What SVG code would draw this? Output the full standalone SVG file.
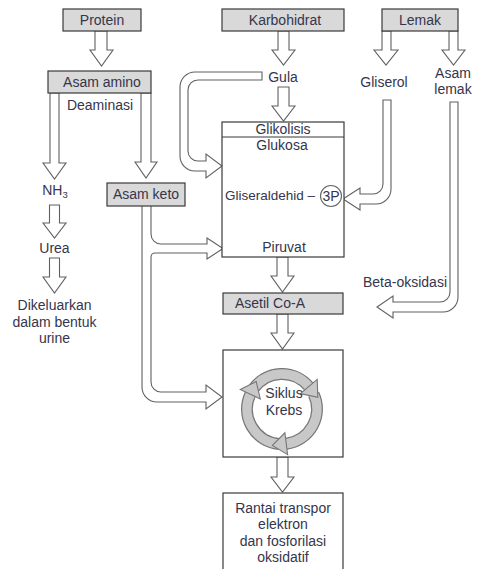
<svg xmlns="http://www.w3.org/2000/svg" width="478" height="569" viewBox="0 0 478 569">
<style>
text{font-family:"Liberation Sans",Arial,sans-serif;font-size:14px;fill:#35354d;text-anchor:middle}
.box{fill:#d9d9d9;stroke:#3a3a3a;stroke-width:1.2}
.wbox{fill:#fff;stroke:#3a3a3a;stroke-width:1.2}
.arr{fill:#fff;stroke:#606060;stroke-width:1.1;stroke-linejoin:miter}
.ring{fill:none;stroke:#777;stroke-width:12}
.ringin{fill:none;stroke:#c8c8c8;stroke-width:9.5}
.rhead{fill:#c8c8c8;stroke:#777;stroke-width:1.1}
</style>
<rect width="478" height="569" fill="#fff"/>
<g id="connectors">
<path class="arr" d="M95,31 V50 H90 L101.5,66 L113,50 H107 V31 Z"/>
<path class="arr" d="M50,93 V163 H43 L54.5,179 L66,163 H59 V93 Z"/>
<path class="arr" d="M141,93 V162 H135 L146,178 L157,162 H151 V93 Z"/>
<path class="arr" d="M49.5,205 V223 H43 L54.5,238 L66,223 H59.5 V205 Z"/>
<path class="arr" d="M49.5,258 V277 H43 L54.5,293 L66,277 H59.5 V258 Z"/>
<path class="arr" d="M278,31 V50 H272 L283.5,65 L295,50 H289 V31 Z"/>
<path class="arr" d="M278,87 V106 H272 L283.5,121 L295,106 H289 V87 Z"/>
<path class="arr" d="M277,156 V171 H271 L282.5,187 L294,171 H288 V156 Z"/>
<path class="arr" d="M277,208 V224 H271 L282.5,238 L294,224 H288 V208 Z"/>
<path class="arr" d="M277,257 V276 H271 L282.5,292 L294,276 H288 V257 Z"/>
<path class="arr" d="M277,314 V333 H271 L282.5,349 L294,333 H288 V314 Z"/>
<path class="arr" d="M277,457 V477 H271 L282.5,492 L294,477 H288 V457 Z"/>
<path class="arr" d="M382,31 V50 H374 L386,65 L398,50 H391 V31 Z"/>
<path class="arr" d="M449,31 V50 H442 L453.5,65 L465,50 H458 V31 Z"/>
<path class="arr" d="M262,72 H195 A15,15 0 0 0 180,87 V156 A15,15 0 0 0 195,171 H206 V178 L222,166 L206,154 V161 H198 A10,10 0 0 1 188,151 V90 A10,10 0 0 1 198,80 H262 Z"/>
<path class="arr" d="M151,206 V234 A10,10 0 0 0 161,244 H207 V238 L223,248.5 L207,259 V253 H155 A4,4 0 0 0 151,257 V382 A10,10 0 0 0 161,392 H206 V385 L222,397 L206,409 V402 H157 A15,15 0 0 1 142,387 V206"/>
<path class="arr" d="M383,100 V184 A10,10 0 0 1 373,194 H360 V188 L343,199 L360,210 V204 H376 A15,15 0 0 0 391,189 V100 Z"/>
<path class="arr" d="M450,102 V292 A10,10 0 0 1 440,302 H393 V296 L377,307 L393,318 V312 H443 A15,15 0 0 0 458,297 V102 Z"/>
</g>
<g id="protein"><rect class="box" x="63" y="9" width="78" height="22"/><text x="102" y="25">Protein</text></g>
<g id="karbohidrat"><rect class="box" x="222" y="9" width="122" height="22"/><text x="285" y="25">Karbohidrat</text></g>
<g id="lemak"><rect class="box" x="382" y="9" width="76" height="22"/><text x="420" y="25">Lemak</text></g>
<g id="asam-amino"><rect class="box" x="48" y="71" width="103" height="22"/><text x="102" y="87">Asam amino</text></g>
<g id="deaminasi"><text x="100" y="110">Deaminasi</text></g>
<g id="nh3"><text x="55" y="195">NH<tspan font-size="9.5" dy="3">3</tspan></text></g>
<g id="urea"><text x="54.5" y="253">Urea</text></g>
<g id="dikeluarkan"><text x="54.5" y="310">Dikeluarkan</text><text x="54.5" y="327">dalam bentuk</text><text x="54.5" y="343">urine</text></g>
<g id="asam-keto"><rect class="box" x="107" y="183" width="78" height="23"/><text x="146" y="199">Asam keto</text></g>
<g id="gula"><text x="283" y="82">Gula</text></g>
<g id="gliserol"><text x="384" y="87">Gliserol</text></g>
<g id="asam-lemak"><text x="453" y="78">Asam</text><text x="453" y="94">lemak</text></g>
<g id="glikolisis">
<rect class="wbox" x="222" y="122" width="122" height="135"/>
<line x1="222" y1="137" x2="344" y2="137" stroke="#3a3a3a" stroke-width="1.2"/>
<text x="283" y="134">Glikolisis</text>
<text x="282" y="150">Glukosa</text>
<text x="225" y="200" style="text-anchor:start;font-size:13.5px">Gliseraldehid –</text>
<circle cx="331" cy="196" r="10.5" fill="#fff" stroke="#666" stroke-width="1.1"/>
<text x="331" y="201">3P</text>
<text x="284" y="252">Piruvat</text>
</g>
<g id="beta-oksidasi"><text x="405" y="287">Beta-oksidasi</text></g>
<g id="asetil"><rect class="box" x="223" y="293" width="120" height="21"/><text x="270" y="308">Asetil Co-A</text></g>
<g id="krebs">
<rect class="wbox" x="223" y="350" width="120" height="107"/>
<path class="ring" d="M253.3,388.9 A35,35 0 0 1 308.8,386.5"/>
<path class="ring" d="M313.7,394.2 A35,35 0 0 1 286.3,443.7"/>
<path class="ring" d="M278.9,443.9 A35,35 0 0 1 250.3,394.2"/>
<path class="ringin" d="M253.3,388.9 A35,35 0 0 1 308.8,386.5"/>
<path class="ringin" d="M313.7,394.2 A35,35 0 0 1 286.3,443.7"/>
<path class="ringin" d="M278.9,443.9 A35,35 0 0 1 250.3,394.2"/>
<polygon class="rhead" points="317.2,379.4 317.8,397.2 300.4,393.6"/>
<polygon class="rhead" points="287.6,454.6 272.4,445.4 284.9,432.8"/>
<polygon class="rhead" points="240.3,389.5 256.2,381.5 260.3,398.9"/>
<text x="284" y="398">Siklus</text>
<text x="284" y="415">Krebs</text>
</g>
<g id="rantai">
<rect class="wbox" x="223" y="493" width="120" height="82"/>
<text x="283" y="513">Rantai transpor</text>
<text x="283" y="529">elektron</text>
<text x="283" y="546">dan fosforilasi</text>
<text x="283" y="562">oksidatif</text>
</g>
</svg>
